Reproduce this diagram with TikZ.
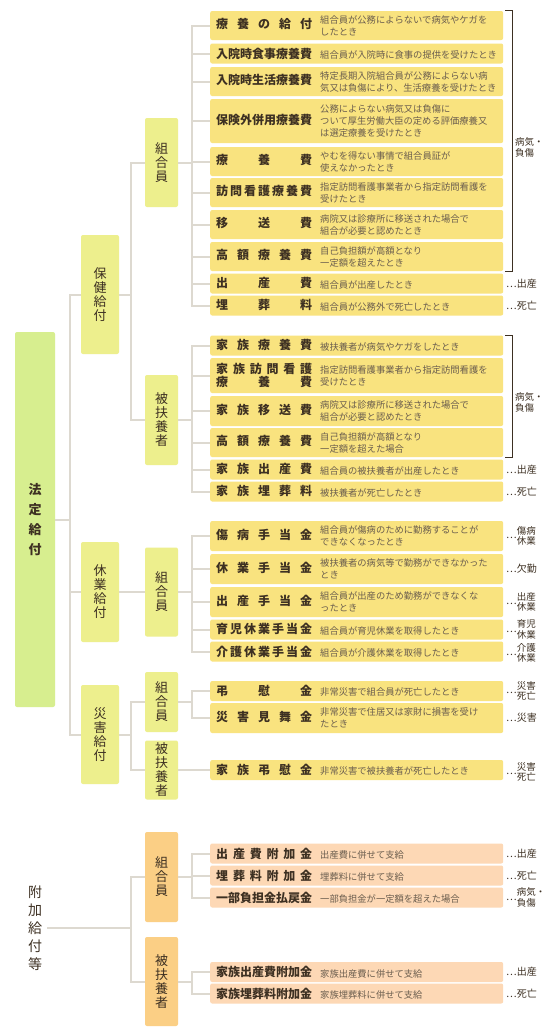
\documentclass[tikz,border=0pt]{standalone}
\usepackage{fontspec}
\setmainfont{Noto Sans CJK JP}
\definecolor{topgreen}{HTML}{D7EE8F}
\definecolor{midgreen}{HTML}{EDEF8D}
\definecolor{orangebox}{HTML}{FBCF85}
\definecolor{itemyel}{HTML}{F9E37F}
\definecolor{itempeach}{HTML}{FDD8B5}
\definecolor{linegray}{HTML}{DDD9D0}
\definecolor{labcol}{HTML}{3D3022}
\definecolor{desccol}{HTML}{6A5D4E}
\newcommand{\ttl}[1]{\makebox[96pt][s]{#1}}
\newcommand{\dsc}[1]{\parbox[c]{177pt}{\mdseries\fontsize{9.3}{12}\selectfont\color{desccol}\raggedright #1}}
\newcommand{\twoline}[2]{\parbox[c]{24pt}{\fontsize{9.5}{10.5}\selectfont #1\\#2}}
\begin{document}
\begin{tikzpicture}[x=1pt, y=-1pt,
  conn/.style={draw=linegray, line width=2pt},
  brk/.style={draw=labcol, line width=1.1pt},
  grp/.style={fill=#1, rounded corners=2pt, align=center, text=labcol, inner sep=0pt},
  lvone/.style={grp=topgreen, minimum width=40pt, minimum height=375pt, font=\bfseries\fontsize{13}{20}\selectfont},
  lvtwo/.style={grp=midgreen, minimum width=38pt, font=\fontsize{13}{14}\selectfont},
  lvthree/.style={grp=midgreen, minimum width=33pt, font=\fontsize{13}{14}\selectfont},
  lvorange/.style={lvthree, fill=orangebox},
  plain/.style={align=center, text=labcol, inner xsep=5pt, inner ysep=0pt, font=\fontsize{14}{18}\selectfont},
  item/.style={anchor=west, fill=itemyel, rounded corners=2pt, minimum width=293pt, minimum height=#1, inner xsep=6pt, inner ysep=0pt, text=labcol, font=\bfseries\fontsize{12}{13}\selectfont},
  extra/.style={item=#1, fill=itempeach},
  note/.style={anchor=west, inner sep=0pt, text=labcol, font=\fontsize{10}{11}\selectfont}]
  \useasboundingbox[fill=white] (0,0) rectangle (555,1036);

  % groups
  \node[lvone] (hotei) at (35,519.5) {法\\定\\給\\付};
  \node[lvtwo, minimum height=119pt] (hoken) at (100,294.5) {保\\健\\給\\付};
  \node[lvtwo, minimum height=100pt] (kyugyo) at (100,592) {休\\業\\給\\付};
  \node[lvtwo, minimum height=99pt] (saigai) at (100,734.5) {災\\害\\給\\付};
  \node[lvthree, minimum height=89pt] (hk) at (161.5,162.5) {組\\合\\員};
  \node[lvthree, minimum height=90pt] (hf) at (161.5,420) {被\\扶\\養\\者};
  \node[lvthree, minimum height=89pt] (qk) at (161.5,592) {組\\合\\員};
  \node[lvthree, minimum height=60pt] (sk) at (161.5,702) {組\\合\\員};
  \node[lvthree, minimum height=59pt] (sf) at (161.5,770) {被\\扶\\養\\者};
  \node[plain] (fuka) at (35,928) {附\\加\\給\\付\\等};
  \node[lvorange, minimum height=90pt] (ak) at (161.5,877) {組\\合\\員};
  \node[lvorange, minimum height=89pt] (af) at (161.5,981.5) {被\\扶\\養\\者};

  % hoken kyufu, kumiaiin
  \node[item=29pt] (k1) at (210,25.5) {\ttl{療 養 の 給 付}\hspace{8pt}\dsc{組合員が公務によらないで病気やケガを\\したとき}};
  \node[item=20pt] (k2) at (210,53.5) {\ttl{入院時食事療養費}\hspace{8pt}\dsc{組合員が入院時に食事の提供を受けたとき}};
  \node[item=29pt] (k3) at (210,81.5) {\ttl{入院時生活療養費}\hspace{8pt}\dsc{特定長期入院組合員が公務によらない病\\気又は負傷により、生活療養を受けたとき}};
  \node[item=44pt] (k4) at (210,121) {\ttl{保険外併用療養費}\hspace{8pt}\dsc{公務によらない病気又は負傷に\\ついて厚生労働大臣の定める評価療養又\\は選定療養を受けたとき}};
  \node[item=29pt] (k5) at (210,161.5) {\ttl{療 養 費}\hspace{8pt}\dsc{やむを得ない事情で組合員証が\\使えなかったとき}};
  \node[item=29pt] (k6) at (210,192.5) {\ttl{訪 問 看 護 療 養 費}\hspace{8pt}\dsc{指定訪問看護事業者から指定訪問看護を\\受けたとき}};
  \node[item=29pt] (k7) at (210,224.5) {\ttl{移 送 費}\hspace{8pt}\dsc{病院又は診療所に移送された場合で\\組合が必要と認めたとき}};
  \node[item=29pt] (k8) at (210,256.5) {\ttl{高 額 療 養 費}\hspace{8pt}\dsc{自己負担額が高額となり\\一定額を超えたとき}};
  \node[item=20pt] (k9) at (210,283.5) {\ttl{出 産 費}\hspace{8pt}\dsc{組合員が出産したとき}};
  \node[item=20pt] (k10) at (210,305.5) {\ttl{埋 葬 料}\hspace{8pt}\dsc{組合員が公務外で死亡したとき}};

  % hoken kyufu, hifuyosha
  \node[item=20pt] (f1) at (210,345.5) {\ttl{家 族 療 養 費}\hspace{8pt}\dsc{被扶養者が病気やケガをしたとき}};
  \node[item=35pt] (f2) at (210,375.5) {\parbox[c]{96pt}{\ttl{家 族 訪 問 看 護}\\\ttl{療 養 費}}\hspace{8pt}\dsc{指定訪問看護事業者から指定訪問看護を\\受けたとき}};
  \node[item=30pt] (f3) at (210,411) {\ttl{家 族 移 送 費}\hspace{8pt}\dsc{病院又は診療所に移送された場合で\\組合が必要と認めたとき}};
  \node[item=29pt] (f4) at (210,442.5) {\ttl{高 額 療 養 費}\hspace{8pt}\dsc{自己負担額が高額となり\\一定額を超えた場合}};
  \node[item=20pt] (f5) at (210,469.5) {\ttl{家 族 出 産 費}\hspace{8pt}\dsc{組合員の被扶養者が出産したとき}};
  \node[item=20pt] (f6) at (210,491.5) {\ttl{家 族 埋 葬 料}\hspace{8pt}\dsc{被扶養者が死亡したとき}};

  % kyugyo kyufu
  \node[item=30pt] (q1) at (210,536) {\ttl{傷 病 手 当 金}\hspace{8pt}\dsc{組合員が傷病のために勤務することが\\できなくなったとき}};
  \node[item=30pt] (q2) at (210,569) {\ttl{休 業 手 当 金}\hspace{8pt}\dsc{被扶養者の病気等で勤務ができなかった\\とき}};
  \node[item=30pt] (q3) at (210,602) {\ttl{出 産 手 当 金}\hspace{8pt}\dsc{組合員が出産のため勤務ができなくな\\ったとき}};
  \node[item=20pt] (q4) at (210,629.5) {\ttl{育 児 休 業 手 当 金}\hspace{8pt}\dsc{組合員が育児休業を取得したとき}};
  \node[item=20pt] (q5) at (210,651.5) {\ttl{介 護 休 業 手 当 金}\hspace{8pt}\dsc{組合員が介護休業を取得したとき}};

  % saigai kyufu
  \node[item=20pt] (s1) at (210,691) {\ttl{弔 慰 金}\hspace{8pt}\dsc{非常災害で組合員が死亡したとき}};
  \node[item=30pt] (s2) at (210,718) {\ttl{災 害 見 舞 金}\hspace{8pt}\dsc{非常災害で住居又は家財に損害を受け\\たとき}};
  \node[item=20pt] (s3) at (210,770) {\ttl{家 族 弔 慰 金}\hspace{8pt}\dsc{非常災害で被扶養者が死亡したとき}};

  % fuka kyufu
  \node[extra=20pt] (a1) at (210,853.5) {\ttl{出 産 費 附 加 金}\hspace{8pt}\dsc{出産費に併せて支給}};
  \node[extra=20pt] (a2) at (210,875.5) {\ttl{埋 葬 料 附 加 金}\hspace{8pt}\dsc{埋葬料に併せて支給}};
  \node[extra=20pt] (a3) at (210,897.5) {\ttl{一部負担金払戻金}\hspace{8pt}\dsc{一部負担金が一定額を超えた場合}};
  \node[extra=20pt] (a4) at (210,972) {\ttl{家族出産費附加金}\hspace{8pt}\dsc{家族出産費に併せて支給}};
  \node[extra=20pt] (a5) at (210,993.5) {\ttl{家族埋葬料附加金}\hspace{8pt}\dsc{家族埋葬料に併せて支給}};

  % connectors
  \draw[conn] (hotei.east) -- ++(15,0) |- (hoken.west);
  \draw[conn] (hotei.east) -- ++(15,0) |- (kyugyo.west);
  \draw[conn] (hotei.east) -- ++(15,0) |- (saigai.west);
  \draw[conn] (hoken.east) -- ++(12,0) |- (hk.west);
  \draw[conn] (hoken.east) -- ++(12,0) |- (hf.west);
  \draw[conn] (kyugyo.east) -- (qk.west);
  \draw[conn] (saigai.east) -- ++(12,0) |- (sk.west);
  \draw[conn] (saigai.east) -- ++(12,0) |- (sf.west);
  \draw[conn] (fuka.east) -- ++(84,0) |- (ak.west);
  \draw[conn] (fuka.east) -- ++(84,0) |- (af.west);
  \draw[conn] (hk.east) -- ++(14,0) |- (k1.west);
  \draw[conn] (hk.east) -- ++(14,0) |- (k2.west);
  \draw[conn] (hk.east) -- ++(14,0) |- (k3.west);
  \draw[conn] (hk.east) -- ++(14,0) |- (k4.west);
  \draw[conn] (hk.east) -- ++(14,0) |- (k5.west);
  \draw[conn] (hk.east) -- ++(14,0) |- (k6.west);
  \draw[conn] (hk.east) -- ++(14,0) |- (k7.west);
  \draw[conn] (hk.east) -- ++(14,0) |- (k8.west);
  \draw[conn] (hk.east) -- ++(14,0) |- (k9.west);
  \draw[conn] (hk.east) -- ++(14,0) |- (k10.west);
  \draw[conn] (hf.east) -- ++(14,0) |- (f1.west);
  \draw[conn] (hf.east) -- ++(14,0) |- (f2.west);
  \draw[conn] (hf.east) -- ++(14,0) |- (f3.west);
  \draw[conn] (hf.east) -- ++(14,0) |- (f4.west);
  \draw[conn] (hf.east) -- ++(14,0) |- (f5.west);
  \draw[conn] (hf.east) -- ++(14,0) |- (f6.west);
  \draw[conn] (qk.east) -- ++(14,0) |- (q1.west);
  \draw[conn] (qk.east) -- ++(14,0) |- (q2.west);
  \draw[conn] (qk.east) -- ++(14,0) |- (q3.west);
  \draw[conn] (qk.east) -- ++(14,0) |- (q4.west);
  \draw[conn] (qk.east) -- ++(14,0) |- (q5.west);
  \draw[conn] (sk.east) -- ++(14,0) |- (s1.west);
  \draw[conn] (sk.east) -- ++(14,0) |- (s2.west);
  \draw[conn] (sf.east) -- (s3.west);
  \draw[conn] (ak.east) -- ++(14,0) |- (a1.west);
  \draw[conn] (ak.east) -- ++(14,0) |- (a2.west);
  \draw[conn] (ak.east) -- ++(14,0) |- (a3.west);
  \draw[conn] (af.east) -- ++(14,0) |- (a4.west);
  \draw[conn] (af.east) -- ++(14,0) |- (a5.west);

  % brackets and notes
  \draw[brk] ([xshift=2pt]k1.north east) -| ([xshift=9pt]k8.south east) -- ([xshift=2pt]k8.south east);
  \draw[brk] ([xshift=2pt]f1.north east) -| ([xshift=9pt]f4.south east) -- ([xshift=2pt]f4.south east);
  \node[note, align=left, font=\fontsize{9.5}{11}\selectfont] (bk) at (515,147) {病気・\\負傷};
  \node[note, align=left, font=\fontsize{9.5}{11}\selectfont] (bf) at (515,402.5) {病気・\\負傷};
  \node[note] (n9) at (506,283.5) {…出産};
  \node[note] (n10) at (506,305.5) {…死亡};
  \node[note] (n15) at (506,469.5) {…出産};
  \node[note] (n16) at (506,491.5) {…死亡};
  \node[note] (nq1) at (506,536) {…\twoline{傷病}{休業}};
  \node[note] (nq2) at (506,569) {…欠勤};
  \node[note] (nq3) at (506,602) {…\twoline{出産}{休業}};
  \node[note] (nq4) at (506,629.5) {…\twoline{育児}{休業}};
  \node[note] (nq5) at (506,653) {…\twoline{介護}{休業}};
  \node[note] (ns1) at (506,691) {…\twoline{災害}{死亡}};
  \node[note] (ns2) at (506,718) {…災害};
  \node[note] (ns3) at (506,772) {…\twoline{災害}{死亡}};
  \node[note] (na1) at (506,853.5) {…出産};
  \node[note] (na2) at (506,875.5) {…死亡};
  \node[note] (na3) at (506,897.5) {…\twoline{病気・}{負傷}};
  \node[note] (na4) at (506,972) {…出産};
  \node[note] (na5) at (506,993.5) {…死亡};
\end{tikzpicture}
\end{document}
